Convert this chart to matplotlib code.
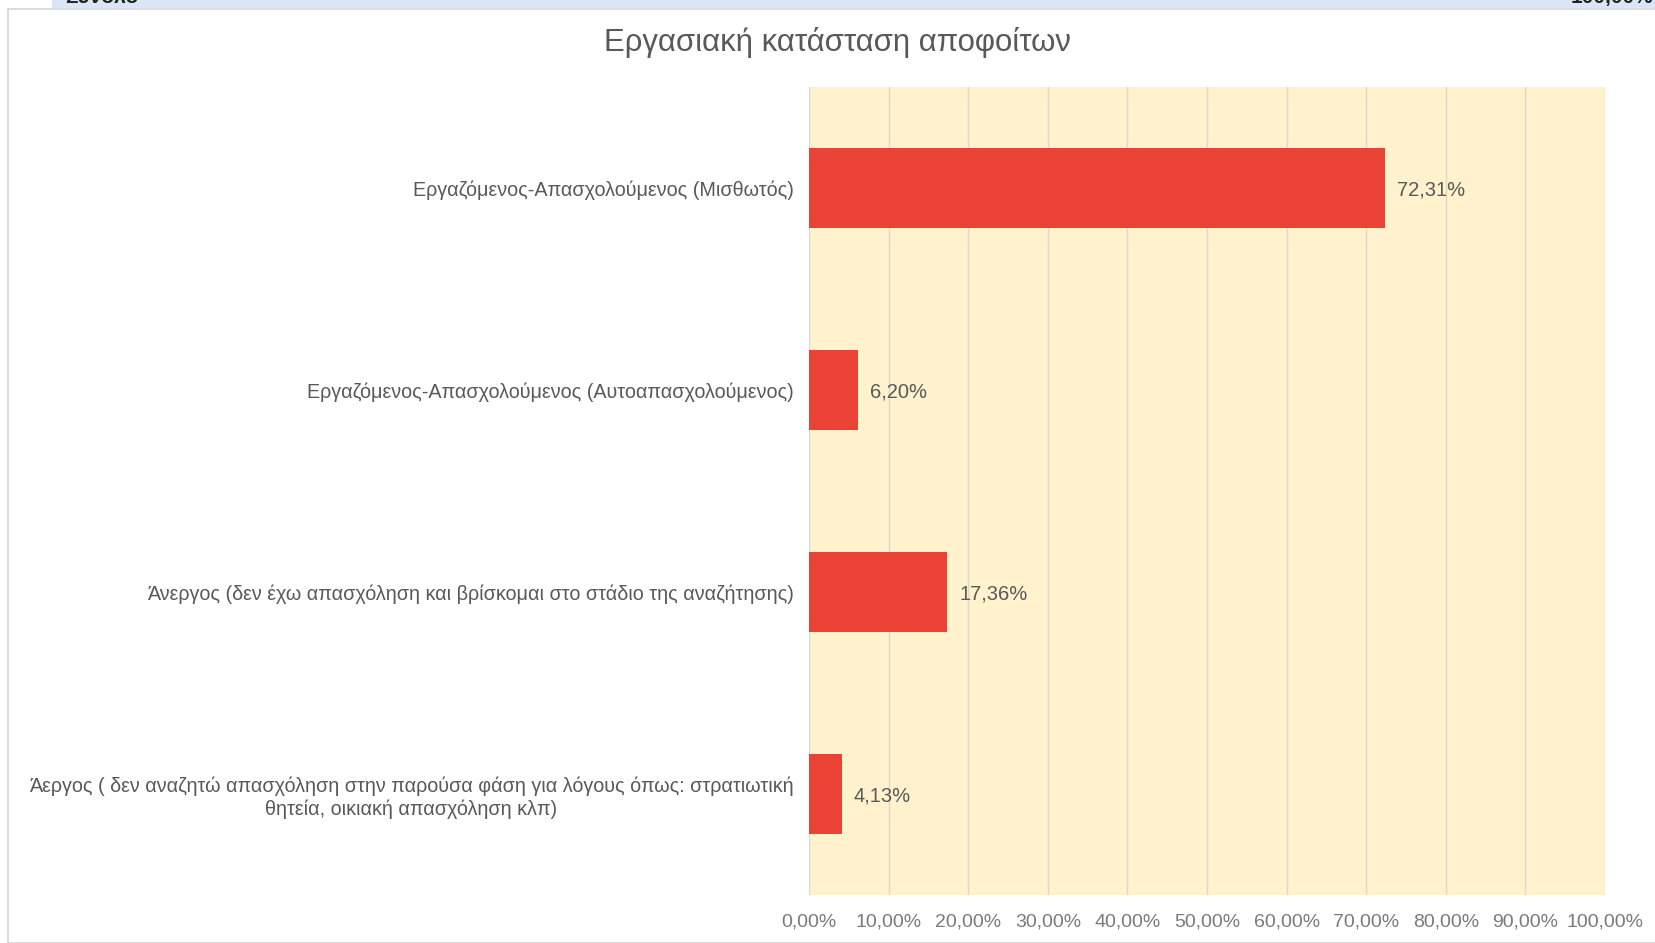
import matplotlib
matplotlib.use("Agg")
import matplotlib.pyplot as plt
from matplotlib.patches import Rectangle
from matplotlib.ticker import FuncFormatter

categories = [
    "Εργαζόμενος-Απασχολούμενος (Μισθωτός)",
    "Εργαζόμενος-Απασχολούμενος (Αυτοαπασχολούμενος)",
    "Άνεργος (δεν έχω απασχόληση και βρίσκομαι στο στάδιο της αναζήτησης)",
    "Άεργος ( δεν αναζητώ απασχόληση στην παρούσα φάση για λόγους όπως: στρατιωτική\nθητεία, οικιακή απασχόληση κλπ)",
]
values = [72.31, 6.20, 17.36, 4.13]
title = "Εργασιακή κατάσταση αποφοίτων"
xticks = [0, 10, 20, 30, 40, 50, 60, 70, 80, 90, 100]

plt.rcParams['font.family'] = ['Liberation Sans', 'DejaVu Sans']

W, H = 1656, 943
fig = plt.figure(figsize=(W / 100, H / 100), dpi=100)
fig.patch.set_facecolor('white')

# chart frame border
fig.add_artist(Rectangle((8 / W, 0.5 / H), (W - 4) / W, (H - 9) / H,
                         transform=fig.transFigure, fill=False,
                         edgecolor='#d6d6d6', linewidth=1.2))

# top band (part of table above)
band = fig.add_axes([52 / W, 1 - 8 / H, 1 - 52 / W, 8 / H])
band.set_xlim(0, 1)
band.set_ylim(0, 1)
band.axis('off')
band.add_patch(Rectangle((0, 0), 1, 1, facecolor='#dae6f8', edgecolor='none'))
band.text(0.008, 0.15, "Σύνολο", fontsize=15, fontweight='bold', color='#222222',
          va='bottom', ha='left', clip_on=True)
band.text(0.998, 0.15, "100,00%", fontsize=15, fontweight='bold', color='#222222',
          va='bottom', ha='right', clip_on=True)

left, right, top, bottom = 809, 1605, 87, 895
ax = fig.add_axes([left / W, 1 - bottom / H, (right - left) / W, (bottom - top) / H])
ax.set_facecolor('#fff2cc')

y = list(range(len(categories)))
ax.barh(y, values, height=0.395, color='#ea4335', zorder=3)
ax.set_ylim(len(categories) - 0.5, -0.5)
ax.set_xlim(0, 100)
ax.set_xticks(xticks)
ax.xaxis.set_major_formatter(FuncFormatter(lambda v, p: f"{v:.2f}%".replace('.', ',')))
ax.set_yticks(y)
ax.set_yticklabels(categories, fontsize=14.2, color='#595959', ha='right',
                   multialignment='center')
ax.tick_params(axis='y', length=0, pad=11)
ax.tick_params(axis='x', length=0, pad=13, labelsize=14, labelcolor='#7a7a7a')
ax.grid(axis='x', color='#ddd8c8', linewidth=1, zorder=1)
for s in ax.spines.values():
    s.set_visible(False)

for yi, v in zip(y, values):
    ax.text(v + 1.5, yi, f"{v:.2f}%".replace('.', ','), va='center_baseline', ha='left',
            fontsize=14.5, color='#595959', zorder=4)

fig.text(837 / W, 1 - 43 / H, title, ha='center', va='center', fontsize=22.4,
         color='#595959')

fig.savefig("out.png", dpi=100, facecolor='white')
